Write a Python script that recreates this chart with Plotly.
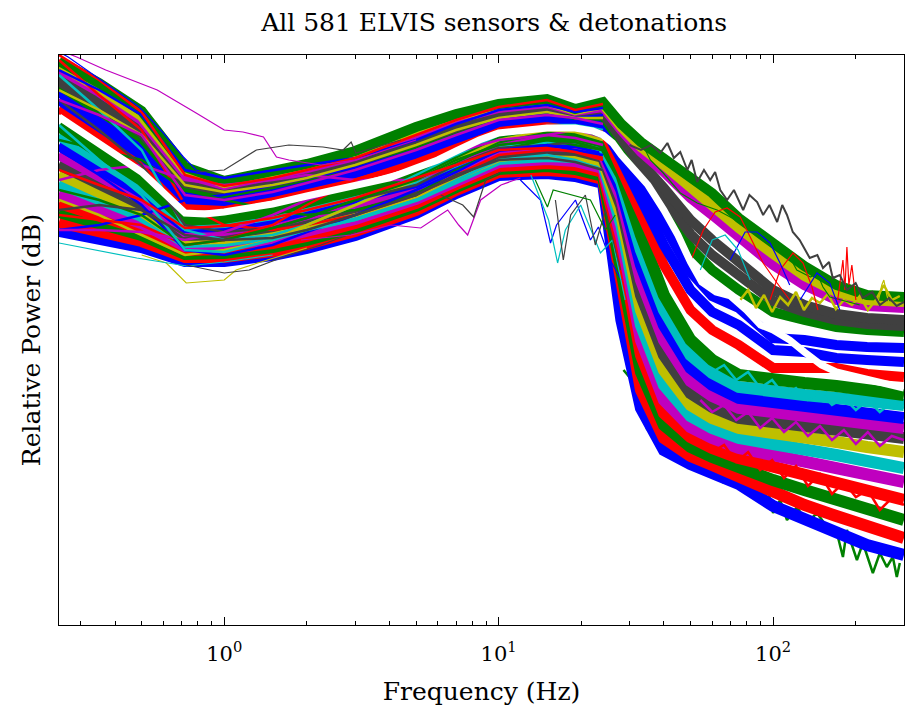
import plotly.graph_objects as go

# ---------------- data (relative power in dB) ----------------
freq = [0.25, 0.35, 0.5, 0.72, 1, 1.5, 2, 3, 5, 7, 10, 15, 19, 24, 28,
        33, 40, 50, 60, 75, 100, 130, 170, 220, 300]
freq_low = [0.25, 0.35, 0.5, 0.72, 1, 1.5, 2, 3, 5, 7, 10, 15, 19, 24]

# upper part of the bundle (above the median at low frequency)
u1 = [-1.2, -5.6, -11.2, -22.4, -25.2, -23.2, -21.8, -19.2, -14.4, -11.8, -9.8, -8.8, -10.8, -9.4, -13.8,
      -17.4, -20.6, -24.6, -27.6, -32.6, -37.6, -42.2, -46.0, -48.0, -48.4]
u8 = [-2.0, -6.6, -12.2, -23.0, -25.6, -23.6, -22.2, -19.6, -15.0, -12.2, -10.2, -9.2, -11.0, -9.8, -14.4,
      -18.4, -22.0, -26.6, -29.8, -34.6, -39.8, -44.2, -47.4, -49.0, -49.4]
u2 = [-2.8, -7.4, -13.0, -23.8, -26.0, -24.2, -22.6, -20.2, -15.6, -12.8, -10.6, -9.6, -11.2, -10.4, -15.0,
      -19.4, -23.4, -28.6, -32.0, -36.6, -42.0, -46.0, -49.0, -50.2, -50.6]
u3 = [-4.4, -9.2, -14.8, -25.0, -26.8, -25.0, -23.4, -21.0, -16.6, -13.8, -11.2, -10.2, -11.6, -11.2, -16.2,
      -21.4, -26.6, -33.0, -37.0, -41.4, -47.0, -50.0, -51.8, -52.6, -53.0]
u9 = [-5.2, -10.0, -15.6, -25.6, -27.2, -25.4, -24.0, -21.4, -17.2, -14.2, -11.6, -10.6, -11.8, -11.6, -16.8,
      -22.4, -28.2, -35.8, -40.0, -44.2, -49.2, -51.4, -53.0, -53.8, -54.2]
u4 = [-6.0, -11.0, -16.6, -26.4, -27.6, -25.8, -24.4, -22.0, -17.8, -14.8, -12.0, -11.0, -12.0, -12.2, -17.4,
      -23.4, -30.0, -38.6, -43.0, -47.0, -51.4, -53.0, -54.4, -55.0, -55.4]
u5 = [-7.4, -12.8, -18.2, -27.6, -28.4, -26.6, -25.2, -22.8, -19.0, -15.6, -12.8, -11.8, -12.6, -13.0, -19.4,
      -26.6, -34.0, -43.4, -48.2, -50.6, -56.6, -57.0, -58.0, -58.4, -58.6]
u6 = [-9.0, -14.6, -20.0, -28.8, -29.2, -27.4, -26.0, -23.6, -20.0, -16.6, -13.4, -12.4, -13.0, -14.0, -21.0,
      -29.0, -38.0, -47.0, -51.4, -54.0, -59.0, -59.4, -60.6, -61.0, -61.4]
u7 = [-10.6, -16.4, -21.8, -30.2, -30.0, -28.4, -26.8, -24.6, -21.2, -17.6, -14.2, -13.2, -13.4, -14.8, -23.0,
      -32.0, -42.0, -51.0, -55.0, -58.0, -62.6, -62.6, -62.6, -63.8, -64.4]

# lower part of the bundle (below the median at low frequency)
l1 = [-14.2, -19.6, -25.0, -33.0, -32.6, -31.0, -29.4, -27.2, -24.0, -20.6, -17.0, -16.0, -16.0, -17.4, -24.0,
      -36.0, -48.0, -57.0, -61.0, -64.0, -65.0, -65.6, -66.2, -67.0, -68.0]
l2 = [-16.0, -21.2, -26.2, -33.8, -33.4, -31.8, -30.2, -28.0, -24.6, -21.2, -17.6, -16.6, -16.8, -18.2, -25.4,
      -39.0, -51.0, -60.0, -63.6, -66.4, -67.4, -68.0, -68.6, -69.2, -70.0]
l3 = [-18.0, -22.8, -27.4, -34.4, -34.2, -32.6, -31.0, -28.8, -25.4, -21.8, -18.2, -17.4, -17.4, -18.8, -27.0,
      -42.0, -54.0, -62.6, -66.0, -68.6, -69.4, -70.2, -71.0, -71.8, -72.6]
l4 = [-19.8, -24.2, -28.6, -35.2, -35.0, -33.4, -32.0, -29.6, -26.0, -22.4, -18.8, -18.0, -18.2, -19.6, -28.6,
      -45.0, -57.0, -65.2, -68.2, -70.6, -71.4, -72.2, -73.0, -73.8, -74.6]
l5 = [-21.8, -25.8, -29.8, -36.0, -35.8, -34.2, -32.8, -30.4, -26.8, -23.2, -19.6, -18.8, -19.0, -20.4, -30.2,
      -48.0, -60.0, -67.6, -70.4, -72.6, -73.4, -74.2, -75.0, -75.8, -76.6]
l6 = [-23.8, -27.4, -31.2, -36.8, -36.6, -35.2, -33.6, -31.2, -27.4, -23.8, -20.2, -19.4, -19.8, -21.2, -32.0,
      -51.0, -63.0, -70.0, -72.6, -74.6, -75.4, -76.4, -77.4, -78.4, -79.4]
l7 = [-25.6, -28.8, -32.2, -37.4, -37.2, -35.8, -34.4, -32.0, -28.2, -24.4, -20.8, -20.2, -20.4, -21.8, -34.0,
      -54.0, -66.0, -72.2, -74.6, -76.6, -77.6, -78.8, -80.0, -81.2, -82.6]
l8 = [-27.6, -30.4, -33.6, -38.2, -38.0, -36.8, -35.2, -32.8, -28.8, -25.0, -21.4, -20.8, -21.2, -22.6, -36.4,
      -57.0, -69.0, -74.4, -76.6, -78.6, -80.0, -81.4, -82.8, -84.0, -85.4]
l9 = [-29.6, -32.0, -34.8, -39.0, -38.8, -37.6, -36.2, -33.6, -29.6, -25.8, -22.2, -21.6, -22.0, -23.4, -39.0,
      -60.0, -71.6, -76.4, -78.6, -80.6, -82.4, -84.0, -85.8, -87.4, -89.0]
l10 = [-31.4, -33.4, -36.0, -39.8, -39.6, -38.4, -37.0, -34.4, -30.2, -26.4, -22.8, -22.2, -22.8, -24.2, -42.6,
       -63.4, -74.0, -78.4, -80.4, -82.6, -85.0, -87.0, -89.0, -91.0, -93.0]
l11 = [-33.4, -35.0, -37.2, -40.4, -40.4, -39.2, -37.8, -35.2, -31.0, -27.0, -23.4, -23.0, -23.4, -24.8, -47.0,
       -67.0, -76.6, -80.2, -82.0, -84.4, -87.6, -90.0, -92.2, -94.4, -96.6]
l12 = [-35.2, -36.6, -38.4, -41.2, -41.2, -40.0, -38.6, -36.0, -31.6, -27.6, -24.0, -23.6, -24.2, -25.6, -53.0,
       -70.6, -79.0, -81.8, -83.4, -85.8, -90.2, -92.6, -95.4, -98.0, -100.0]

# thin sensors crossing the low-frequency bundle (0.25 - 24 Hz)
t1 = [-1.0, -8.0, -15.0, -30.0, -34.0, -35.0, -34.0, -32.0, -28.0, -24.0, -20.0, -19.0, -19.0, -20.6]
t2 = [-35.0, -34.0, -32.0, -29.0, -28.0, -26.0, -24.6, -22.6, -19.0, -16.0, -13.0, -11.4, -12.6, -12.0]
t3 = [-17.0, -19.0, -21.0, -27.0, -29.0, -31.0, -32.0, -31.0, -28.0, -23.0, -19.0, -17.0, -18.0, -19.0]
t4 = [-25.0, -23.0, -22.0, -25.0, -26.0, -25.0, -24.0, -25.0, -25.0, -22.0, -18.0, -16.0, -15.0, -17.0]
t5 = [-4.0, -11.0, -19.0, -35.0, -37.0, -36.0, -34.0, -30.0, -24.0, -20.0, -16.0, -14.0, -14.0, -15.0]
t6 = [-29.0, -32.0, -36.0, -40.0, -39.0, -37.0, -34.0, -30.0, -25.0, -21.0, -17.0, -15.0, -15.4, -17.0]
t7 = [-9.0, -15.0, -22.0, -34.0, -35.4, -34.6, -32.6, -29.0, -26.0, -22.0, -18.6, -18.0, -17.4, -19.0]
t8 = [-32.0, -33.0, -34.0, -38.0, -37.0, -34.0, -30.0, -25.0, -21.0, -18.0, -15.0, -14.0, -14.4, -15.4]
t9 = [-19.0, -24.0, -30.0, -39.0, -40.0, -38.0, -35.4, -32.0, -27.0, -23.4, -19.0, -18.0, -19.0, -20.0]
t10 = [-35.0, -35.0, -35.4, -37.0, -35.4, -32.0, -29.0, -26.0, -23.0, -19.4, -17.0, -16.0, -16.6, -18.0]
t11 = [-27.0, -29.0, -32.0, -38.0, -37.0, -34.6, -32.6, -29.0, -25.0, -21.0, -18.0, -17.0, -17.4, -19.0]
t12 = [-14.0, -21.0, -28.0, -39.0, -39.4, -37.0, -35.0, -33.0, -29.0, -25.0, -21.0, -20.0, -21.0, -23.0]
t13 = [-7.0, -11.0, -16.0, -26.0, -27.4, -26.0, -24.6, -22.0, -18.0, -15.0, -12.6, -11.4, -12.6, -12.6]
t14 = [-23.0, -26.0, -29.0, -34.6, -34.2, -32.6, -31.0, -28.6, -24.6, -22.0, -19.0, -18.6, -19.4, -21.0]
t15 = [-31.0, -30.0, -31.0, -36.0, -37.0, -36.6, -35.0, -32.0, -28.0, -24.0, -21.0, -20.6, -21.4, -23.0]
t16 = [-3.0, -7.0, -12.0, -23.0, -24.6, -23.0, -22.0, -20.6, -17.0, -13.8, -11.0, -10.0, -11.4, -10.6]
t17 = [0.0, -5.0, -11.4, -24.0, -26.2, -24.6, -23.0, -20.6, -16.0, -13.0, -10.4, -9.0, -11.0, -9.8]
t18 = [-9.0, -12.0, -16.0, -28.0, -29.0, -27.4, -25.6, -23.0, -19.0, -16.0, -13.0, -12.0, -12.6, -13.8]

# median of all spectra (white curve)
median_freq = [0.25, 0.35, 0.5, 0.72, 0.85, 1, 1.5, 2, 3, 4, 5, 6, 7, 8.5, 10, 12, 15, 19, 22, 24, 26,
               28, 31, 35, 40, 45, 50, 55, 62, 70, 80, 90, 100, 115, 130, 150, 170, 200, 240, 300]
median_db = [-12.4, -17.8, -23.4, -31.6, -31.8, -31.4, -29.8, -28.2, -26.0, -24.6, -22.6, -21.0, -19.2,
             -17.0, -15.6, -15.0, -14.6, -14.6, -15.2, -16.0, -17.6, -20.0, -22.6, -26.0, -31.0, -36.0,
             -41.4, -45.4, -47.4, -48.2, -51.0, -54.0, -55.0, -57.0, -59.4, -62.0, -63.4, -64.4, -65.4, -66.6]

# individual outlying sensors
mag_top_f = [0.25, 0.29, 0.37, 0.57, 0.79, 1.0, 1.17, 1.39, 1.55, 1.72, 2.25, 3, 5]
mag_top_db = [1.0, -0.4, -3.0, -7.0, -11.6, -15.0, -15.4, -16.4, -20.4, -21.0, -22.0, -21.0, -17.0]
blue_top_f = [0.25, 0.27, 0.49, 0.6, 0.71, 0.79, 1.0, 1.5]
blue_top_db = [0.6, -0.4, -10.4, -15.6, -20.4, -23.0, -24.6, -23.0]
grey_top_f = [0.79, 1.0, 1.31, 1.72, 2.29, 2.71, 2.9, 3.02, 4.4]
grey_top_db = [-23.4, -23.0, -19.0, -18.0, -18.4, -19.0, -17.4, -19.6, -17.0]
yel_bot_f = [0.5, 0.615, 0.727, 1.0, 1.105, 1.36, 2]
yel_bot_db = [-40.0, -41.6, -45.6, -45.0, -43.0, -41.4, -38.6]
cyan_bot_f = [0.25, 0.48, 0.73, 1.0, 1.5]
cyan_bot_db = [-37.6, -40.6, -42.2, -41.4, -40.0]
grey_bot_f = [0.727, 1.0, 1.233, 1.64, 2.25, 3.02]
grey_bot_db = [-42.0, -43.6, -43.0, -40.4, -38.0, -35.4]
mag_mid_f = [1.906, 2.9, 4.05, 5.2, 6.52, 7.15, 7.71, 8.6, 10.2, 12.0]
mag_mid_db = [-37.0, -36.0, -34.0, -34.6, -31.0, -34.0, -36.0, -29.0, -26.0, -24.6]
grey_dip7_f = [6.15, 7.4, 8.11, 8.97, 10.2]
grey_dip7_db = [-28.0, -30.0, -32.4, -25.0, -23.4]
blue_dip_f = [12.0, 14.2, 15.45, 16.25, 19.05, 21.6, 23.1, 25.5, 28.0]
blue_dip_db = [-25.0, -29.0, -37.6, -34.0, -29.0, -37.0, -34.4, -41.0, -45.0]
cyan_dip_f = [13.1, 15.2, 16.4, 17.5, 19.9, 23.5, 26.0, 28.9]
cyan_dip_db = [-24.0, -33.0, -41.6, -35.0, -30.0, -39.6, -37.0, -49.0]
grey_dip_f = [16.1, 17.2, 18.3, 20.7, 22.5, 24.5, 27.8]
grey_dip_db = [-29.0, -41.0, -32.0, -28.0, -38.0, -31.0, -43.0]
green_dip_f = [13.6, 15.06, 15.8, 21.6, 24.5, 26.6]
green_dip_db = [-25.0, -30.4, -27.0, -29.0, -35.0, -32.0]

dark_out_f = [30, 33, 36, 38.8, 41.2, 43.5, 45.9, 48.7, 50.5, 52.9, 56, 59, 61.5, 64.2, 68, 72, 77.8, 82,
              87.5, 92, 97, 103.5, 108, 112.4, 118, 125, 131, 136, 145, 152, 160, 165, 175, 186, 200,
              212, 230, 245, 265, 282, 300]
dark_out_db = [-18.0, -19.0, -18.0, -19.6, -17.6, -20.6, -19.4, -23.0, -21.0, -25.4, -23.0, -25.0, -23.4,
               -27.0, -29.0, -27.0, -31.0, -28.0, -29.4, -32.0, -30.0, -33.4, -30.0, -32.0, -35.4, -37.0,
               -39.0, -40.6, -40.0, -42.6, -41.4, -44.6, -44.0, -47.0, -45.6, -48.6, -47.4, -50.0, -48.6,
               -50.2, -49.4]
green_out_f = [32.8, 35.7, 39.8, 45.9, 52.9, 62.5, 69.8, 80.4, 92, 106, 115, 122, 137, 144.5, 152, 161, 207]
green_out_db = [-17.0, -21.0, -23.6, -27.6, -29.6, -31.0, -32.4, -34.4, -37.0, -38.4, -40.4, -43.0, -44.4,
                -43.6, -46.4, -48.4, -50.0]
red_arc1_f = [49.9, 55.7, 61.5, 68, 75.9, 82.5, 92, 103.4, 115]
red_arc1_db = [-41.4, -35.0, -31.4, -30.6, -32.4, -36.4, -41.6, -45.6, -49.0]
red_arc2_f = [97.5, 106, 118.2, 128.6, 138.6, 145.7]
red_arc2_db = [-49.0, -43.0, -39.6, -41.6, -46.4, -51.0]
blue_arc1_f = [69.8, 79.1, 87.5, 97.5, 106, 115]
blue_arc1_db = [-41.0, -35.4, -35.4, -37.6, -41.6, -46.0]
blue_arc2_f = [125.4, 144.5, 161, 175]
blue_arc2_db = [-49.0, -43.6, -45.6, -51.0]
cyan_arc_f = [54.3, 60, 66.9, 74.6, 82.5]
cyan_arc_db = [-43.0, -37.0, -36.0, -39.0, -45.0]
red_spike_f = [172, 179.7, 182.7, 185.8, 188.9, 193.7, 200.3]
red_spike_db = [-49.0, -41.0, -47.0, -38.4, -46.0, -42.0, -49.0]
yel_spike_f = [240.9, 249, 253.3, 259.7, 266]
yel_spike_db = [-49.6, -46.0, -45.0, -48.0, -50.0]

# spiky noise floors above ~50 Hz
low_edge_f = [28.5, 31.0, 32.3, 34.8, 36.3, 38.8, 42.2, 43.3, 45.9, 49.9, 51.2, 54.3, 59.0, 62.6, 65.8,
              71.5, 77.8, 84.6, 91.2, 95.1, 100, 106.1, 112.4, 122.3, 132.9, 144.5, 157.2, 170.9, 179.7,
              185.8, 202.1, 212.5, 231.0, 245.0, 259.7, 273.2, 282.4, 289.6]
low_edge_db = [-63.0, -65.4, -68.0, -75.0, -71.0, -73.6, -74.4, -81.0, -77.0, -79.4, -81.4, -79.6, -84.4,
               -81.0, -85.6, -82.4, -85.0, -83.6, -89.6, -86.4, -91.6, -89.0, -93.0, -90.4, -93.6, -91.6,
               -94.4, -95.6, -100.4, -95.0, -101.0, -97.6, -103.6, -99.6, -102.4, -100.4, -104.4, -101.6]
yel_band_f = [75.9, 81.1, 86.7, 92.7, 99.2, 106.1, 113.4, 121.2, 129.6, 138.6, 148.2, 158.5, 169.4,
              181.2, 193.8, 207.2, 221.5, 236.8, 253.3, 270.8, 289.6]
yel_band_db = [-49.0, -47.0, -50.6, -48.0, -51.4, -48.4, -50.0, -47.4, -51.0, -48.6, -49.6, -47.8, -50.8,
               -49.0, -50.0, -48.2, -51.0, -49.0, -46.0, -49.0, -48.2]
floor_f = [54.3, 60.0, 66.3, 73.4, 81.1, 89.7, 99.2, 109.6, 121.2, 134.0, 148.2, 163.9, 181.2, 200.3,
           221.5, 244.9, 270.8, 300.0]
cyan_floor_db = [-61.0, -63.4, -62.0, -65.0, -63.4, -66.6, -65.0, -68.0, -66.6, -69.0, -67.4, -70.0, -68.6,
                 -71.0, -69.0, -71.4, -69.4, -70.6]
mag_floor_db = [-69.0, -71.4, -70.0, -73.0, -71.4, -74.6, -72.6, -75.4, -73.4, -76.2, -74.2, -77.0, -75.0,
                -77.8, -75.4, -78.2, -76.2, -77.0]
red_floor_db = [-77.0, -79.4, -78.0, -81.4, -79.4, -83.0, -81.0, -84.6, -82.2, -86.2, -83.8, -87.8, -85.4,
                -88.4, -87.0, -91.0, -88.6, -90.0]

tick_vals = [1, 10, 100]
tick_text = ["10<sup>0</sup>", "10<sup>1</sup>", "10<sup>2</sup>"]
title_text = "All 581 ELVIS sensors & detonations"
x_label = "Frequency (Hz)"
y_label = "Relative Power (dB)"

# ---------------- styling ----------------
B, G, R, C, M, Y, K = "#0000FF", "#008000", "#FF0000", "#00BFBF", "#BF00BF", "#BFBF00", "#404040"
FONT = "DejaVu Serif"

lower_groups = [(l12, B), (l11, R), (l10, G), (l9, R), (l8, M), (l7, C), (l6, Y), (l5, K), (l4, M),
                (l3, B), (l2, C), (l1, G)]
upper_groups = [(u7, R), (u6, B), (u5, B), (u4, G), (u9, K), (u3, K), (u2, M), (u8, Y), (u1, G)]
thin_lines = [(t1, R), (t2, B), (t3, G), (t4, M), (t5, C), (t6, Y), (t7, K), (t8, R), (t9, B),
              (t10, M), (t11, G), (t12, C), (t13, Y), (t14, R), (t15, K), (t16, B), (t17, R), (t18, M)]
outlier_traces = [
    (mag_top_f, mag_top_db, M), (blue_top_f, blue_top_db, B), (grey_top_f, grey_top_db, K),
    (yel_bot_f, yel_bot_db, Y), (cyan_bot_f, cyan_bot_db, C), (grey_bot_f, grey_bot_db, K),
    (mag_mid_f, mag_mid_db, M), (grey_dip7_f, grey_dip7_db, K), (blue_dip_f, blue_dip_db, B),
    (cyan_dip_f, cyan_dip_db, C), (grey_dip_f, grey_dip_db, K), (green_dip_f, green_dip_db, G),
    (green_out_f, green_out_db, G), (red_arc1_f, red_arc1_db, R), (red_arc2_f, red_arc2_db, R),
    (blue_arc1_f, blue_arc1_db, B), (blue_arc2_f, blue_arc2_db, B), (cyan_arc_f, cyan_arc_db, C),
    (red_spike_f, red_spike_db, R), (yel_spike_f, yel_spike_db, Y),
]
spiky_traces = [
    (floor_f, cyan_floor_db, C), (floor_f, mag_floor_db, M), (floor_f, red_floor_db, R),
    (yel_band_f, yel_band_db, Y),
]


def add_line(fig, xs, ys, color, width):
    fig.add_trace(go.Scatter(x=xs, y=ys, mode="lines", line=dict(color=color, width=width),
                             hoverinfo="skip", showlegend=False))


fig = go.Figure()
add_line(fig, low_edge_f, low_edge_db, G, 2.5)
for ys, col in lower_groups:
    add_line(fig, freq, ys, col, 12)
for ys, col in upper_groups:
    add_line(fig, freq, ys, col, 10)
for xs, ys, col in spiky_traces:
    add_line(fig, xs, ys, col, 2.5)
for ys, col in thin_lines:
    add_line(fig, freq_low, ys, col, 2.5)
for xs, ys, col in outlier_traces:
    add_line(fig, xs, ys, col, 1.2)
add_line(fig, dark_out_f, dark_out_db, K, 2)
add_line(fig, median_freq, median_db, "white", 7)

fig.update_layout(
    width=907, height=714,
    margin=dict(l=59, r=3, t=55, b=89),
    paper_bgcolor="white", plot_bgcolor="white",
    font=dict(family=FONT, size=25, color="black"),
    title=dict(text=title_text, x=0.515, xref="paper", xanchor="center",
               y=1 - 22 / 714, yref="container", yanchor="middle",
               font=dict(family=FONT, size=25, color="black")),
    showlegend=False,
)
fig.update_xaxes(
    type="log", range=[-0.6021, 2.4771], automargin=False,
    tickmode="array", tickvals=tick_vals, ticktext=tick_text,
    showline=True, linecolor="black", linewidth=1, mirror="ticks",
    ticks="inside", ticklen=8, tickcolor="black", tickwidth=1, ticklabelstandoff=10,
    minor=dict(ticks="inside", ticklen=4, tickcolor="black", dtick="D1", showgrid=False),
    showgrid=False, zeroline=False,
    tickfont=dict(family=FONT, size=21, color="black"),
    title=dict(text=x_label, standoff=17, font=dict(family=FONT, size=25, color="black")),
)
fig.update_yaxes(
    range=[-114, 0], showticklabels=False, ticks="", automargin=False,
    showline=True, linecolor="black", linewidth=1, mirror=True,
    showgrid=False, zeroline=False,
    title=dict(text=y_label, standoff=10, font=dict(family=FONT, size=25, color="black")),
)

fig.write_html("out.html", config={"displayModeBar": False},
               post_script="document.body.style.margin='0px';document.body.style.overflow='hidden';")
